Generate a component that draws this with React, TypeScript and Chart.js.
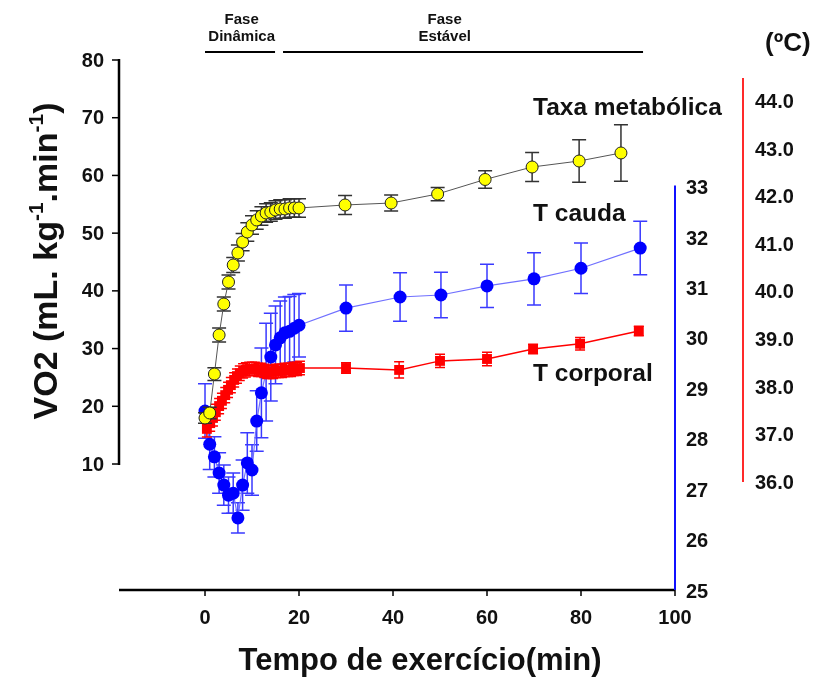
import React, { useEffect, useRef } from 'react';
import { Chart, registerables } from 'chart.js';

Chart.register(...registerables);

// ---- Data ----
const vo2Time = [0, 1, 2, 3, 4, 5, 6, 7, 8, 9, 10, 11, 12, 13, 14, 15, 16, 17, 18, 19, 20, 29.8, 39.6, 49.5, 59.6, 69.6, 79.6, 88.5];
const vo2Mean = [17.97, 18.84, 25.59, 32.35, 37.72, 41.53, 44.48, 46.56, 48.46, 50.2, 51.41, 52.28, 52.97, 53.49, 53.66, 54.01, 54.18, 54.18, 54.36, 54.36, 54.36, 54.88, 55.22, 56.78, 59.3, 61.46, 62.5, 63.89];
const vo2Err = [0.9, 1.0, 1.1, 1.2, 1.2, 1.2, 1.3, 1.4, 1.5, 1.6, 1.6, 1.6, 1.6, 1.6, 1.6, 1.6, 1.6, 1.6, 1.6, 1.6, 1.6, 1.65, 1.4, 1.15, 1.5, 2.5, 3.7, 4.9];

const caudaTime = [0, 1, 2, 3, 4, 5, 6, 7, 8, 9, 10, 11, 12, 13, 14, 15, 16, 17, 18, 19, 20, 30, 41.5, 50.2, 60, 70, 80, 92.6];
const caudaMean = [28.55, 27.89, 27.64, 27.32, 27.08, 26.88, 26.92, 26.43, 27.08, 27.52, 27.38, 28.35, 28.91, 29.32, 29.62, 29.86, 30.0, 30.1, 30.13, 30.19, 30.25, 30.59, 30.81, 30.85, 31.03, 31.17, 31.38, 31.78];
const caudaErr = [0.54, 0.5, 0.4, 0.4, 0.4, 0.36, 0.4, 0.3, 0.5, 0.6, 0.5, 0.6, 0.89, 0.97, 0.87, 0.77, 0.73, 0.71, 0.69, 0.67, 0.63, 0.46, 0.48, 0.45, 0.43, 0.52, 0.5, 0.53];

const corpTime = [0.4, 1.1, 1.7, 2.3, 3.0, 3.6, 4.3, 4.9, 5.5, 6.2, 6.8, 7.4, 8.1, 8.7, 9.4, 10.0, 10.6, 11.3, 11.9, 12.6, 13.2, 13.8, 14.5, 15.1, 15.7, 16.4, 17.0, 17.7, 18.3, 18.9, 19.6, 20.2, 30.0, 41.3, 50.0, 60.0, 69.8, 79.8, 92.3];
const corpMean = [37.12, 37.24, 37.35, 37.47, 37.6, 37.71, 37.83, 37.94, 38.04, 38.15, 38.23, 38.29, 38.34, 38.36, 38.38, 38.38, 38.38, 38.36, 38.36, 38.34, 38.32, 38.32, 38.32, 38.34, 38.34, 38.34, 38.36, 38.36, 38.36, 38.38, 38.38, 38.4, 38.4, 38.36, 38.55, 38.59, 38.8, 38.91, 39.18];
const corpErr = [0.17, 0.17, 0.17, 0.17, 0.16, 0.16, 0.16, 0.16, 0.16, 0.15, 0.15, 0.15, 0.15, 0.15, 0.14, 0.14, 0.14, 0.14, 0.14, 0.14, 0.14, 0.14, 0.14, 0.14, 0.14, 0.14, 0.14, 0.14, 0.14, 0.14, 0.14, 0.14, 0.11, 0.17, 0.14, 0.14, 0.1, 0.13, 0.1];

const xTicks = [0, 20, 40, 60, 80, 100];
const vo2Ticks = [10, 20, 30, 40, 50, 60, 70, 80];
const caudaTicks = [25, 26, 27, 28, 29, 30, 31, 32, 33];
const corpTicks = [36, 37, 38, 39, 40, 41, 42, 43, 44];
const corpAxisTop = 44.5;

const phaseLabels = [
  { lines: ['Fase', 'Dinâmica'], from: 0, to: 14.9, textAt: 7.8 },
  { lines: ['Fase', 'Estável'], from: 16.6, to: 93.2, textAt: 51 },
];

const FONT = "'Liberation Sans', Arial, Helvetica, sans-serif";

const errorBarPlugin = {
  id: 'errorBars',
  beforeDatasetDraw(chart: any, args: any) {
    const ds: any = chart.data.datasets[args.index];
    if (!ds.errors) return;
    const meta = args.meta;
    const yScale = chart.scales[meta.yAxisID];
    const ctx = chart.ctx;
    ctx.save();
    ctx.strokeStyle = ds.errorColor;
    ctx.lineWidth = ds.errorWidth;
    meta.data.forEach((pt: any, i: number) => {
      const raw = ds.data[i];
      const e = ds.errors[i];
      const yT = yScale.getPixelForValue(raw.y + e);
      const yB = yScale.getPixelForValue(raw.y - e);
      const c = ds.cap;
      ctx.beginPath();
      ctx.moveTo(pt.x, yT);
      ctx.lineTo(pt.x, yB);
      ctx.moveTo(pt.x - c, yT);
      ctx.lineTo(pt.x + c, yT);
      ctx.moveTo(pt.x - c, yB);
      ctx.lineTo(pt.x + c, yB);
      ctx.stroke();
    });
    ctx.restore();
  },
};

const decorPlugin = {
  id: 'decor',
  afterDraw(chart: any) {
    const ctx = chart.ctx;
    const xs = chart.scales.x;
    const yV = chart.scales.yVO2;
    const yC = chart.scales.yCauda;
    const yR = chart.scales.yCorp;
    const { left, right, bottom } = chart.chartArea;
    ctx.save();

    // X axis
    ctx.strokeStyle = '#000';
    ctx.lineWidth = 2.5;
    ctx.beginPath();
    ctx.moveTo(left, bottom);
    ctx.lineTo(right, bottom);
    ctx.stroke();
    ctx.lineWidth = 1.5;
    ctx.fillStyle = '#111';
    ctx.font = `bold 20px ${FONT}`;
    ctx.textAlign = 'center';
    ctx.textBaseline = 'middle';
    xTicks.forEach((t) => {
      const px = xs.getPixelForValue(t);
      ctx.beginPath();
      ctx.moveTo(px, bottom);
      ctx.lineTo(px, bottom + 6);
      ctx.stroke();
      ctx.fillText(String(t), px, bottom + 28);
    });

    // Left VO2 axis
    const vTop = yV.getPixelForValue(vo2Ticks[vo2Ticks.length - 1]);
    const vBot = yV.getPixelForValue(vo2Ticks[0]);
    ctx.lineWidth = 2.5;
    ctx.beginPath();
    ctx.moveTo(left, vTop - 1);
    ctx.lineTo(left, vBot + 1);
    ctx.stroke();
    ctx.lineWidth = 1.5;
    ctx.textAlign = 'right';
    vo2Ticks.forEach((v) => {
      const py = yV.getPixelForValue(v);
      ctx.beginPath();
      ctx.moveTo(left - 7, py);
      ctx.lineTo(left, py);
      ctx.stroke();
      ctx.fillText(String(v), left - 15, py + 1);
    });

    // Blue (tail temperature) axis
    ctx.strokeStyle = '#1010ff';
    ctx.lineWidth = 2;
    ctx.beginPath();
    ctx.moveTo(right, yC.getPixelForValue(caudaTicks[caudaTicks.length - 1]) - 1);
    ctx.lineTo(right, yC.getPixelForValue(caudaTicks[0]));
    ctx.stroke();
    ctx.textAlign = 'left';
    caudaTicks.forEach((v) => {
      ctx.fillText(String(v), right + 11, yC.getPixelForValue(v) + 2);
    });

    // Red (body temperature) axis
    const redX = right + 68;
    ctx.strokeStyle = '#ff2a2a';
    ctx.beginPath();
    ctx.moveTo(redX, yR.getPixelForValue(corpAxisTop));
    ctx.lineTo(redX, yR.getPixelForValue(corpTicks[0]));
    ctx.stroke();
    corpTicks.forEach((v) => {
      ctx.fillText(v.toFixed(1), redX + 12, yR.getPixelForValue(v) + 1);
    });
    ctx.font = `bold 26px ${FONT}`;
    ctx.fillText('(ºC)', redX + 22, 44);

    // Series labels
    ctx.font = `bold 24.5px ${FONT}`;
    ctx.fillText('Taxa metabólica', 533, 108);
    ctx.fillText('T cauda', 533, 214);
    ctx.fillText('T corporal', 533, 374);

    // Phase labels
    ctx.font = `bold 15px ${FONT}`;
    ctx.textAlign = 'center';
    ctx.strokeStyle = '#000';
    ctx.lineWidth = 2;
    phaseLabels.forEach((p) => {
      const cx = xs.getPixelForValue(p.textAt);
      ctx.fillText(p.lines[0], cx, 20);
      ctx.fillText(p.lines[1], cx, 37);
      ctx.beginPath();
      ctx.moveTo(xs.getPixelForValue(p.from), 52);
      ctx.lineTo(xs.getPixelForValue(p.to), 52);
      ctx.stroke();
    });

    // X title
    ctx.font = `bold 31px ${FONT}`;
    ctx.fillText('Tempo de exercício(min)', 420, 661);

    // Y title (rotated, with superscripts)
    const big = 34;
    const small = 21;
    const segs = [
      { t: 'VO2 (mL. kg', sup: false },
      { t: '-1', sup: true },
      { t: '.min', sup: false },
      { t: '-1', sup: true },
      { t: ')', sup: false },
    ];
    let total = 0;
    segs.forEach((s) => {
      ctx.font = `bold ${s.sup ? small : big}px ${FONT}`;
      total += ctx.measureText(s.t).width;
    });
    ctx.translate(57, 261);
    ctx.rotate(-Math.PI / 2);
    ctx.textAlign = 'left';
    ctx.textBaseline = 'alphabetic';
    let cur = -total / 2;
    segs.forEach((s) => {
      ctx.font = `bold ${s.sup ? small : big}px ${FONT}`;
      ctx.fillText(s.t, cur, s.sup ? -14 : 0);
      cur += ctx.measureText(s.t).width;
    });
    ctx.restore();
  },
};

export default function App() {
  const canvasRef = useRef<HTMLCanvasElement | null>(null);

  useEffect(() => {
    if (!canvasRef.current) return;
    const chart = new Chart(canvasRef.current, {
      type: 'scatter',
      data: {
        datasets: [
          {
            label: 'Taxa metabólica',
            data: vo2Time.map((t, i) => ({ x: t, y: vo2Mean[i] })),
            yAxisID: 'yVO2',
            showLine: true,
            borderColor: '#555',
            borderWidth: 1,
            pointRadius: 6,
            pointBackgroundColor: '#ffff00',
            pointBorderColor: '#222',
            pointBorderWidth: 1,
            order: 0,
            errors: vo2Err,
            errorColor: '#333',
            errorWidth: 1.5,
            cap: 7,
          } as any,
          {
            label: 'T corporal',
            data: corpTime.map((t, i) => ({ x: t, y: corpMean[i] })),
            yAxisID: 'yCorp',
            showLine: true,
            borderColor: '#ff0000',
            borderWidth: 1.5,
            pointStyle: 'rect',
            pointRadius: 7,
            pointBackgroundColor: '#ff0000',
            pointBorderColor: '#ff0000',
            pointBorderWidth: 0,
            order: 1,
            errors: corpErr,
            errorColor: '#ff0000',
            errorWidth: 1.5,
            cap: 5,
          } as any,
          {
            label: 'T cauda',
            data: caudaTime.map((t, i) => ({ x: t, y: caudaMean[i] })),
            yAxisID: 'yCauda',
            showLine: true,
            borderColor: '#7070ff',
            borderWidth: 1.2,
            pointRadius: 6.5,
            pointBackgroundColor: '#0000ff',
            pointBorderColor: '#0000ff',
            pointBorderWidth: 0,
            order: 2,
            errors: caudaErr,
            errorColor: '#3a3aff',
            errorWidth: 1.5,
            cap: 7,
          } as any,
        ],
      },
      options: {
        animation: false,
        responsive: false,
        layout: { padding: { left: 119, right: 144, top: 60, bottom: 87 } },
        plugins: { legend: { display: false }, tooltip: { enabled: false } },
        elements: { line: { tension: 0 } },
        scales: {
          x: { type: 'linear', min: -18.3, max: 100, display: false },
          yVO2: { type: 'linear', position: 'left', min: -11.83, max: 80, display: false },
          yCauda: { type: 'linear', position: 'right', min: 25, max: 35.51, display: false },
          yCorp: { type: 'linear', position: 'right', min: 33.73, max: 44.88, display: false },
        },
      } as any,
      plugins: [errorBarPlugin, decorPlugin],
    });
    return () => chart.destroy();
  }, []);

  return (
    <div style={{ position: 'absolute', left: 0, top: 0, width: 819, height: 677, background: '#fff' }}>
      <canvas ref={canvasRef} width={819} height={677} style={{ display: 'block' }} />
    </div>
  );
}
